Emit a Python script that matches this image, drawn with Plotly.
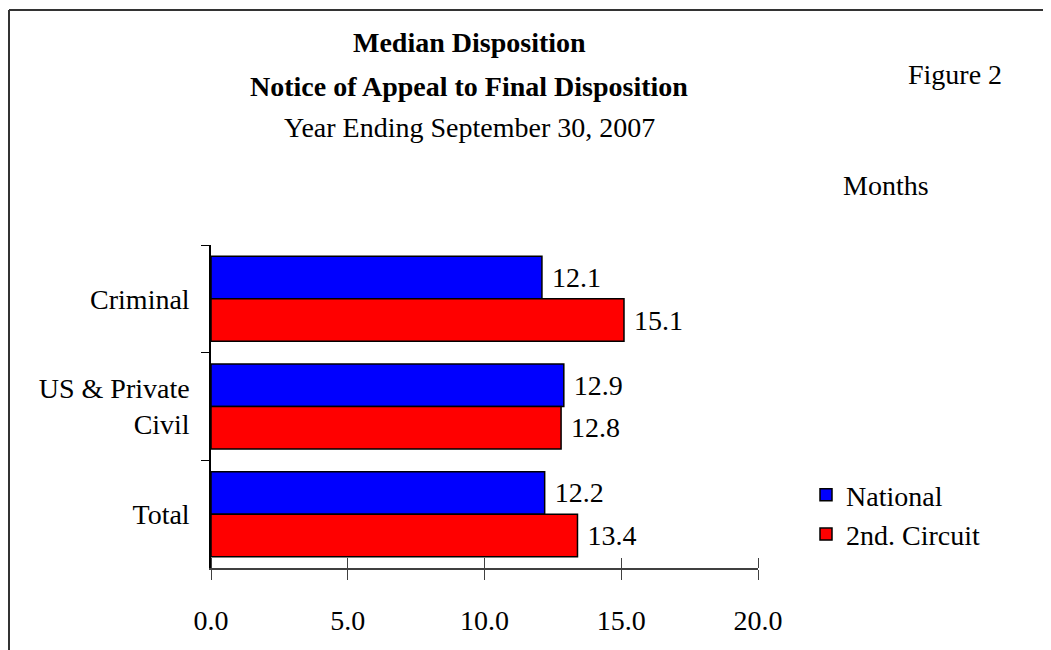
import plotly.graph_objects as go

# ---------------------------------------------------------------------------
# Data
# ---------------------------------------------------------------------------

CATEGORIES = ["Criminal", "US & Private<br>Civil", "Total"]
NATIONAL = [12.1, 12.9, 12.2]
SECOND_CIRCUIT = [15.1, 12.8, 13.4]
X_TICKS = [0, 5, 10, 15, 20]

BLUE = "#0000FF"
RED = "#FF0000"
AXIS_COLOR = "#404040"
FONT = "Liberation Serif, Times New Roman, serif"

# page body has an 8px margin, so work in screen pixels and shift
OFF = 8
W, H = 1051 - OFF, 650 - OFF
PLOT_X0, PLOT_X1 = 211, 758   # screen px of x=0 and x=20
PLOT_Y0, PLOT_Y1 = 245, 568   # screen px of top and bottom of plot area
L, R = PLOT_X0 - OFF, W - (PLOT_X1 - OFF)
T, B = PLOT_Y0 - OFF, H - (PLOT_Y1 - OFF)


def px_x(px):
    return (px - PLOT_X0) / (PLOT_X1 - PLOT_X0)


def px_y(py):
    return (PLOT_Y1 - py) / (PLOT_Y1 - PLOT_Y0)


fig = go.Figure()

fig.add_trace(go.Bar(
    y=CATEGORIES, x=NATIONAL, orientation="h", name="National",
    marker=dict(color=BLUE, line=dict(color="black", width=1.5)),
    texttemplate="\u00a0%{x:.1f}", textposition="outside", cliponaxis=False,
    textfont=dict(family=FONT, size=28, color="black"),
))
fig.add_trace(go.Bar(
    y=CATEGORIES, x=SECOND_CIRCUIT, orientation="h", name="2nd. Circuit",
    marker=dict(color=RED, line=dict(color="black", width=1.5)),
    texttemplate="\u00a0%{x:.1f}", textposition="outside", cliponaxis=False,
    textfont=dict(family=FONT, size=28, color="black"),
))

fig.update_layout(
    width=W, height=H,
    margin=dict(l=L, r=R, t=T, b=B, autoexpand=False),
    paper_bgcolor="white", plot_bgcolor="white",
    font=dict(family=FONT, size=28, color="black"),
    barmode="group", bargap=0.21, bargroupgap=0,
    showlegend=True,
    legend=dict(x=px_x(806), y=px_y(470), xanchor="left", yanchor="top",
                bgcolor="rgba(0,0,0,0)", font=dict(size=28), tracegroupgap=0),
)

fig.update_xaxes(
    range=[0, 20], tickvals=X_TICKS, ticktext=[f"{v:.1f}" for v in X_TICKS],
    showgrid=False, zeroline=False, showline=True, linecolor=AXIS_COLOR, linewidth=1.5,
    ticks="outside", ticklen=10, tickcolor=AXIS_COLOR, tickwidth=1,
    minor=dict(tickvals=X_TICKS, ticks="inside", ticklen=10, tickcolor=AXIS_COLOR, showgrid=False),
    ticklabelstandoff=17, tickfont=dict(size=28),
)
fig.update_yaxes(
    autorange="reversed", showgrid=False, zeroline=False,
    showline=True, linecolor="black", linewidth=1.5,
    ticks="outside", tickson="boundaries", ticklen=8, tickcolor="black", tickwidth=1,
    ticklabelstandoff=14, tickfont=dict(size=28),
)

# Frame around the whole chart (only top and left visible in the picture)
FRAME_LEFT, FRAME_TOP = 9, 10
fig.add_shape(type="line", xref="paper", yref="paper",
              x0=px_x(FRAME_LEFT), x1=px_x(1060), y0=px_y(FRAME_TOP), y1=px_y(FRAME_TOP),
              line=dict(color="#333333", width=2))
fig.add_shape(type="line", xref="paper", yref="paper",
              x0=px_x(FRAME_LEFT), x1=px_x(FRAME_LEFT), y0=px_y(FRAME_TOP), y1=px_y(660),
              line=dict(color="#333333", width=2))

# Titles
TEXTS = [
    ("<b>Median Disposition</b>", 469, 42),
    ("<b>Notice of Appeal to Final Disposition</b>", 469, 86),
    ("Year Ending September 30, 2007", 469, 127),
    ("Figure 2", 955, 74),
    ("Months", 886, 186),
]
for text, x, y in TEXTS:
    fig.add_annotation(text=text, x=px_x(x), y=px_y(y), xref="paper", yref="paper",
                       xanchor="center", yanchor="middle", showarrow=False,
                       font=dict(size=28))

fig.write_html("out.html")
